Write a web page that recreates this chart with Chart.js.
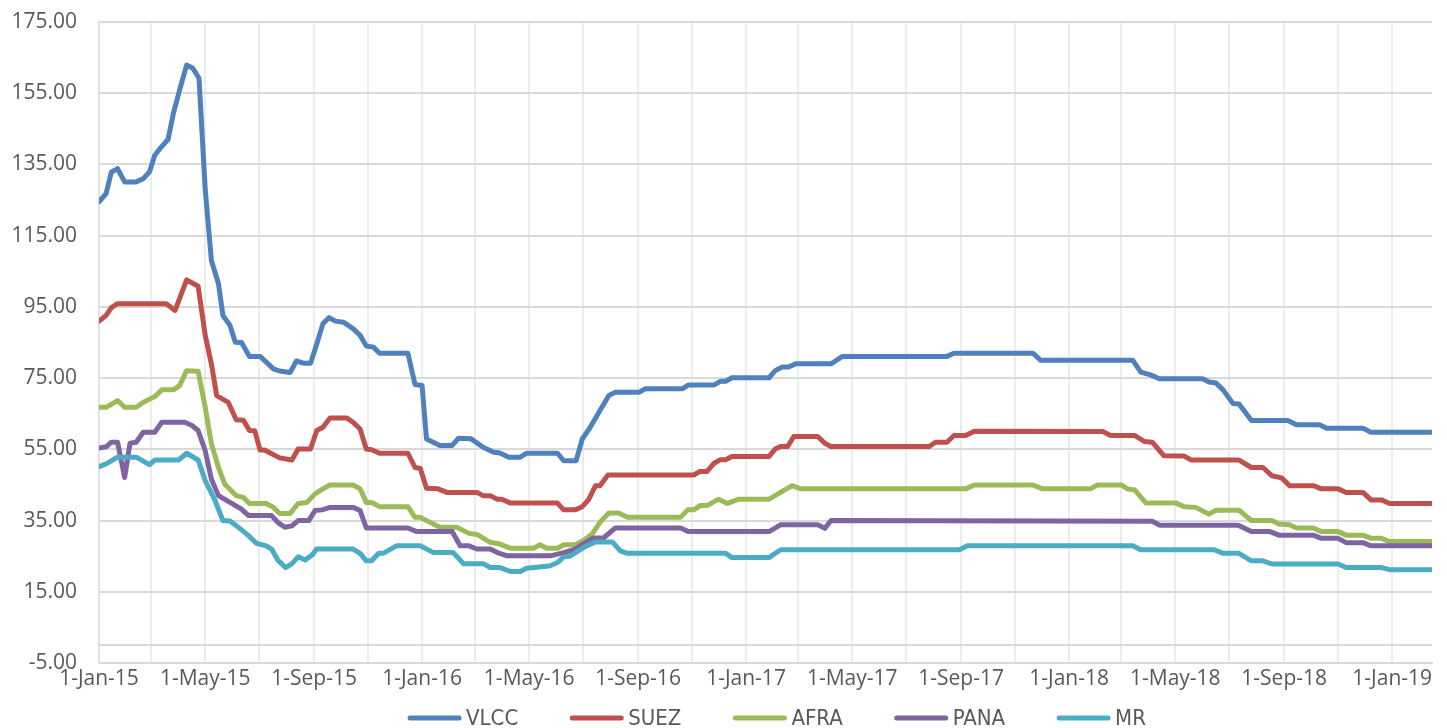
<!DOCTYPE html>
<html>
<head>
<meta charset="utf-8">
<title>Tanker rates</title>
<script src="https://cdn.jsdelivr.net/npm/chart.js@4.4.1/dist/chart.umd.min.js"></script>
<style>
  html, body { margin: 0; padding: 0; background: #fff; }
  canvas { display: block; }
</style>
</head>
<body>
<canvas id="rateChart" width="1447" height="728"></canvas>
<script>
// weekly rates, only the points where the line changes direction
const VLCC = [
    ['2015-01-01', 124.5], ['2015-01-09', 126.8], ['2015-01-15', 132.9], ['2015-01-22', 133.8],
    ['2015-01-30', 130.1], ['2015-02-12', 130.1], ['2015-02-20', 131.0], ['2015-02-27', 132.9],
    ['2015-03-05', 137.6], ['2015-03-11', 139.5], ['2015-03-20', 142.0], ['2015-03-26', 149.3],
    ['2015-04-02', 155.9], ['2015-04-10', 162.9], ['2015-04-17', 162.0], ['2015-04-24', 159.2],
    ['2015-05-01', 128.0], ['2015-05-08', 108.0], ['2015-05-16', 101.5], ['2015-05-21', 92.6],
    ['2015-05-29', 89.8], ['2015-06-04', 85.1], ['2015-06-11', 85.0], ['2015-06-20', 81.1],
    ['2015-07-02', 81.1], ['2015-07-09', 79.5], ['2015-07-17', 77.6], ['2015-07-24', 77.0],
    ['2015-08-05', 76.6], ['2015-08-12', 79.8], ['2015-08-20', 79.2], ['2015-08-28', 79.2],
    ['2015-09-04', 84.6], ['2015-09-11', 90.3], ['2015-09-18', 92.0], ['2015-09-25', 91.0],
    ['2015-10-04', 90.7], ['2015-10-15', 88.9], ['2015-10-23', 87.0], ['2015-10-30', 84.0],
    ['2015-11-07', 83.7], ['2015-11-14', 82.0], ['2015-12-16', 82.0], ['2015-12-24', 73.2],
    ['2016-01-01', 72.9], ['2016-01-06', 57.9], ['2016-01-21', 56.1], ['2016-02-04', 56.1],
    ['2016-02-11', 58.1], ['2016-02-25', 58.0], ['2016-03-10', 55.6], ['2016-03-22', 54.2],
    ['2016-03-29', 54.0], ['2016-04-08', 52.8], ['2016-04-21', 52.8], ['2016-04-28', 53.9],
    ['2016-06-02', 53.9], ['2016-06-09', 51.8], ['2016-06-23', 51.8], ['2016-06-30', 57.9],
    ['2016-07-09', 61.2], ['2016-07-20', 65.9], ['2016-07-30', 70.1], ['2016-08-06', 71.0],
    ['2016-09-02', 71.0], ['2016-09-09', 72.0], ['2016-10-21', 72.0], ['2016-10-28', 73.1],
    ['2016-11-26', 73.1], ['2016-12-03', 74.1], ['2016-12-09', 74.1], ['2016-12-16', 75.1],
    ['2017-01-27', 75.1], ['2017-02-03', 77.1], ['2017-02-11', 78.1], ['2017-02-18', 78.1],
    ['2017-02-26', 79.0], ['2017-04-07', 79.0], ['2017-04-20', 81.1], ['2017-08-16', 81.1],
    ['2017-08-24', 82.0], ['2017-11-21', 82.0], ['2017-11-30', 80.0], ['2018-03-14', 80.0],
    ['2018-03-23', 76.7], ['2018-04-03', 75.9], ['2018-04-13', 74.8], ['2018-06-01', 74.8],
    ['2018-06-08', 73.9], ['2018-06-16', 73.6], ['2018-06-24', 71.7], ['2018-07-05', 67.9],
    ['2018-07-12', 67.7], ['2018-07-26', 63.1], ['2018-09-05', 63.1], ['2018-09-15', 61.9],
    ['2018-10-11', 61.9], ['2018-10-19', 60.9], ['2018-11-29', 60.9], ['2018-12-08', 59.8],
    ['2019-02-15', 59.8]
];

const SUEZ = [
    ['2015-01-01', 91.0], ['2015-01-09', 92.6], ['2015-01-15', 94.8], ['2015-01-22', 95.9],
    ['2015-03-18', 95.9], ['2015-03-28', 94.0], ['2015-04-10', 102.6], ['2015-04-23', 100.8],
    ['2015-05-01', 87.0], ['2015-05-08', 79.0], ['2015-05-14', 70.1], ['2015-05-27', 68.2],
    ['2015-06-05', 63.3], ['2015-06-13', 63.2], ['2015-06-20', 60.3], ['2015-06-26', 60.2],
    ['2015-07-02', 54.8], ['2015-07-07', 54.8], ['2015-07-24', 52.6], ['2015-08-07', 52.0],
    ['2015-08-14', 55.1], ['2015-08-28', 55.1], ['2015-09-04', 60.3], ['2015-09-11', 61.2],
    ['2015-09-19', 63.8], ['2015-10-08', 63.8], ['2015-10-15', 62.6], ['2015-10-23', 60.7],
    ['2015-10-30', 55.1], ['2015-11-05', 54.9], ['2015-11-14', 53.9], ['2015-12-16', 53.9],
    ['2015-12-24', 49.9], ['2015-12-30', 49.6], ['2016-01-06', 44.1], ['2016-01-19', 43.9],
    ['2016-01-29', 42.9], ['2016-03-03', 42.9], ['2016-03-10', 42.0], ['2016-03-18', 42.0],
    ['2016-03-26', 41.0], ['2016-03-31', 41.0], ['2016-04-10', 39.9], ['2016-06-02', 39.9],
    ['2016-06-09', 38.0], ['2016-06-22', 38.0], ['2016-06-30', 38.9], ['2016-07-07', 40.8],
    ['2016-07-15', 44.8], ['2016-07-20', 44.8], ['2016-07-29', 47.8], ['2016-11-03', 47.8],
    ['2016-11-10', 48.8], ['2016-11-18', 48.8], ['2016-11-26', 51.1], ['2016-12-03', 52.1],
    ['2016-12-09', 52.1], ['2016-12-16', 53.0], ['2017-01-27', 53.0], ['2017-02-03', 55.1],
    ['2017-02-09', 55.8], ['2017-02-17', 55.8], ['2017-02-24', 58.6], ['2017-03-23', 58.6],
    ['2017-03-31', 56.7], ['2017-04-07', 55.8], ['2017-07-27', 55.8], ['2017-08-03', 57.0],
    ['2017-08-16', 57.0], ['2017-08-24', 58.9], ['2017-09-06', 58.9], ['2017-09-16', 60.1],
    ['2018-02-08', 60.0], ['2018-02-17', 58.9], ['2018-03-16', 58.9], ['2018-03-27', 57.2],
    ['2018-04-05', 57.0], ['2018-04-18', 53.2], ['2018-05-11', 53.1], ['2018-05-19', 52.0],
    ['2018-07-12', 52.0], ['2018-07-26', 49.9], ['2018-08-08', 49.9], ['2018-08-18', 47.6],
    ['2018-08-29', 47.0], ['2018-09-07', 44.8], ['2018-10-04', 44.8], ['2018-10-13', 43.9],
    ['2018-11-01', 43.9], ['2018-11-10', 42.9], ['2018-11-29', 42.9], ['2018-12-08', 40.8],
    ['2018-12-20', 40.8], ['2018-12-29', 39.8], ['2019-02-15', 39.8]
];

const AFRA = [
    ['2015-01-01', 66.8], ['2015-01-09', 66.8], ['2015-01-22', 68.7], ['2015-01-30', 66.8],
    ['2015-02-12', 66.8], ['2015-02-20', 68.2], ['2015-03-05', 69.8], ['2015-03-13', 71.7],
    ['2015-03-26', 71.7], ['2015-04-02', 72.9], ['2015-04-10', 77.1], ['2015-04-23', 76.9],
    ['2015-05-01', 66.8], ['2015-05-08', 56.6], ['2015-05-16', 49.9], ['2015-05-23', 45.3],
    ['2015-06-05', 42.0], ['2015-06-13', 41.5], ['2015-06-20', 39.8], ['2015-07-09', 39.8],
    ['2015-07-17', 38.7], ['2015-07-24', 37.0], ['2015-08-05', 37.0], ['2015-08-14', 39.8],
    ['2015-08-24', 40.1], ['2015-09-02', 42.5], ['2015-09-11', 43.9], ['2015-09-19', 45.0],
    ['2015-10-15', 45.0], ['2015-10-23', 43.9], ['2015-10-30', 40.1], ['2015-11-05', 40.1],
    ['2015-11-14', 38.9], ['2015-12-16', 38.9], ['2015-12-24', 35.9], ['2015-12-30', 35.9],
    ['2016-01-21', 33.1], ['2016-02-09', 33.1], ['2016-02-23', 31.4], ['2016-03-03', 31.1],
    ['2016-03-18', 28.9], ['2016-03-29', 28.4], ['2016-04-10', 27.2], ['2016-05-06', 27.2],
    ['2016-05-13', 28.2], ['2016-05-21', 27.2], ['2016-06-02', 27.2], ['2016-06-09', 28.2],
    ['2016-06-22', 28.2], ['2016-07-02', 29.5], ['2016-07-11', 31.2], ['2016-07-20', 34.5],
    ['2016-07-30', 37.1], ['2016-08-10', 37.1], ['2016-08-20', 35.9], ['2016-10-19', 35.9],
    ['2016-10-27', 38.0], ['2016-11-03', 38.0], ['2016-11-10', 39.2], ['2016-11-18', 39.2],
    ['2016-12-01', 41.0], ['2016-12-11', 39.8], ['2016-12-24', 41.0], ['2017-01-27', 41.0],
    ['2017-02-09', 42.9], ['2017-02-22', 44.8], ['2017-03-04', 43.9], ['2017-09-06', 43.9],
    ['2017-09-16', 45.0], ['2017-11-21', 45.0], ['2017-12-02', 43.9], ['2018-01-25', 43.9],
    ['2018-02-02', 45.0], ['2018-03-01', 45.0], ['2018-03-08', 43.9], ['2018-03-16', 43.6],
    ['2018-03-29', 39.9], ['2018-05-02', 39.9], ['2018-05-11', 38.9], ['2018-05-24', 38.7],
    ['2018-06-08', 36.8], ['2018-06-16', 37.9], ['2018-07-12', 37.9], ['2018-07-26', 35.0],
    ['2018-08-18', 35.0], ['2018-08-26', 34.0], ['2018-09-07', 33.8], ['2018-09-15', 32.9],
    ['2018-10-04', 32.9], ['2018-10-13', 31.9], ['2018-11-01', 31.9], ['2018-11-10', 30.9],
    ['2018-11-29', 30.9], ['2018-12-08', 30.0], ['2018-12-20', 30.0], ['2018-12-29', 29.1],
    ['2019-02-15', 29.1]
];

const PANA = [
    ['2015-01-01', 55.4], ['2015-01-09', 55.7], ['2015-01-15', 57.0], ['2015-01-22', 57.0],
    ['2015-01-30', 47.1], ['2015-02-05', 56.7], ['2015-02-12', 57.0], ['2015-02-20', 59.8],
    ['2015-03-05', 59.8], ['2015-03-13', 62.6], ['2015-04-08', 62.6], ['2015-04-16', 61.7],
    ['2015-04-23', 60.3], ['2015-05-01', 54.6], ['2015-05-08', 46.6], ['2015-05-16', 42.0],
    ['2015-05-29', 40.1], ['2015-06-11', 38.2], ['2015-06-19', 36.4], ['2015-07-15', 36.4],
    ['2015-07-22', 34.5], ['2015-07-30', 33.1], ['2015-08-07', 33.5], ['2015-08-14', 35.0],
    ['2015-08-26', 35.0], ['2015-09-02', 37.8], ['2015-09-10', 38.0], ['2015-09-19', 38.7],
    ['2015-10-15', 38.7], ['2015-10-23', 37.8], ['2015-10-30', 32.9], ['2015-12-16', 32.9],
    ['2015-12-26', 31.9], ['2016-02-04', 31.9], ['2016-02-13', 27.9], ['2016-02-23', 27.9],
    ['2016-03-03', 27.0], ['2016-03-18', 27.0], ['2016-03-26', 26.0], ['2016-04-06', 25.1],
    ['2016-05-25', 25.1], ['2016-06-09', 26.0], ['2016-06-22', 27.0], ['2016-07-02', 28.6],
    ['2016-07-13', 30.1], ['2016-07-24', 30.1], ['2016-08-06', 32.9], ['2016-10-19', 32.9],
    ['2016-10-28', 31.9], ['2017-01-27', 31.9], ['2017-02-09', 33.8], ['2017-03-23', 33.8],
    ['2017-03-31', 32.8], ['2017-04-07', 35.0], ['2018-04-05', 34.8], ['2018-04-13', 33.7],
    ['2018-07-11', 33.7], ['2018-07-26', 31.9], ['2018-08-16', 31.9], ['2018-08-26', 30.9],
    ['2018-10-04', 30.9], ['2018-10-13', 30.0], ['2018-11-01', 30.0], ['2018-11-10', 28.8],
    ['2018-11-29', 28.8], ['2018-12-08', 27.9], ['2019-02-15', 27.9]
];

const MR = [
    ['2015-01-01', 50.1], ['2015-01-09', 50.9], ['2015-01-22', 52.8], ['2015-02-12', 52.8],
    ['2015-02-27', 50.7], ['2015-03-05', 52.0], ['2015-04-01', 52.0], ['2015-04-10', 53.9],
    ['2015-04-23', 52.0], ['2015-05-01', 46.2], ['2015-05-12', 40.7], ['2015-05-21', 35.0],
    ['2015-05-29', 34.9], ['2015-06-09', 32.8], ['2015-06-17', 31.2], ['2015-06-28', 28.6],
    ['2015-07-09', 27.9], ['2015-07-15', 27.0], ['2015-07-22', 23.9], ['2015-07-31', 21.8],
    ['2015-08-07', 22.9], ['2015-08-14', 24.8], ['2015-08-22', 23.9], ['2015-08-30', 25.4],
    ['2015-09-04', 27.0], ['2015-10-15', 27.0], ['2015-10-23', 25.8], ['2015-10-30', 23.7],
    ['2015-11-05', 23.7], ['2015-11-13', 25.8], ['2015-11-18', 25.8], ['2015-12-03', 27.9],
    ['2015-12-30', 27.9], ['2016-01-14', 26.0], ['2016-02-05', 26.0], ['2016-02-17', 22.9],
    ['2016-03-10', 22.9], ['2016-03-18', 21.8], ['2016-03-29', 21.8], ['2016-04-10', 20.7],
    ['2016-04-21', 20.7], ['2016-04-28', 21.6], ['2016-05-10', 21.9], ['2016-05-25', 22.3],
    ['2016-06-02', 23.2], ['2016-06-09', 24.8], ['2016-06-16', 25.0], ['2016-07-02', 27.5],
    ['2016-07-15', 29.0], ['2016-08-03', 29.0], ['2016-08-12', 26.5], ['2016-08-20', 25.8],
    ['2016-12-09', 25.8], ['2016-12-16', 24.6], ['2017-01-27', 24.6], ['2017-02-09', 26.8],
    ['2017-08-30', 26.8], ['2017-09-08', 27.9], ['2018-03-14', 27.9], ['2018-03-23', 26.8],
    ['2018-06-14', 26.8], ['2018-06-24', 25.8], ['2018-07-12', 25.8], ['2018-07-26', 23.7],
    ['2018-08-08', 23.7], ['2018-08-18', 22.8], ['2018-11-01', 22.8], ['2018-11-10', 21.8],
    ['2018-12-20', 21.8], ['2018-12-29', 21.2], ['2019-02-15', 21.2]
];

const seriesNames = ['VLCC', 'SUEZ', 'AFRA', 'PANA', 'MR'];
const seriesData = [VLCC, SUEZ, AFRA, PANA, MR];
const seriesColors = ['#4f81bd', '#c0504d', '#9bbb59', '#8064a2', '#4bacc6'];

// vertical gridlines every two months, labels every four
const tickDates = [
    '2015-01-01', '2015-03-01', '2015-05-01', '2015-07-01', '2015-09-01', '2015-11-01',
    '2016-01-01', '2016-03-01', '2016-05-01', '2016-07-01', '2016-09-01', '2016-11-01',
    '2017-01-01', '2017-03-01', '2017-05-01', '2017-07-01', '2017-09-01', '2017-11-01',
    '2018-01-01', '2018-03-01', '2018-05-01', '2018-07-01', '2018-09-01', '2018-11-01',
    '2019-01-01'
];
const tickLabels = [
    '1-Jan-15', '', '1-May-15', '', '1-Sep-15', '',
    '1-Jan-16', '', '1-May-16', '', '1-Sep-16', '',
    '1-Jan-17', '', '1-May-17', '', '1-Sep-17', '',
    '1-Jan-18', '', '1-May-18', '', '1-Sep-18', '',
    '1-Jan-19'
];

const yMin = -5;
const yMax = 175;
const yStep = 20;

const T0 = Date.UTC(2015, 0, 1);
function dayOf(s) {
    const p = s.split('-').map(Number);
    return (Date.UTC(p[0], p[1] - 1, p[2]) - T0) / 86400000;
}

const textColor = '#595959';
const axisFont = { family: '"Open Sans", "DejaVu Sans", sans-serif', size: 21 };

// Excel draws the category axis where y = 0
const zeroLine = {
    id: 'zeroLine',
    beforeDatasetsDraw(chart) {
        const {ctx, chartArea, scales} = chart;
        const y = Math.round(scales.y.getPixelForValue(0));
        ctx.save();
        ctx.strokeStyle = '#d9d9d9';
        ctx.lineWidth = 2;
        ctx.beginPath();
        ctx.moveTo(chartArea.left, y);
        ctx.lineTo(chartArea.right, y);
        ctx.stroke();
        ctx.restore();
    }
};

// legend drawn by hand, the built-in one uses the same padding vertically
const lineLegend = {
    id: 'lineLegend',
    afterDraw(chart) {
        const ctx = chart.ctx;
        const lineLen = 53, gap = 5, spacing = 52;
        const centerX = 777, y = 718;
        ctx.save();
        ctx.font = '22px "Liberation Sans Narrow", "DejaVu Sans Condensed", "Open Sans", sans-serif';
        const items = chart.data.datasets.map(ds => ({
            text: ds.label,
            color: ds.borderColor,
            w: ctx.measureText(ds.label).width
        }));
        let total = 0;
        items.forEach((it, i) => {
            total += lineLen + gap + it.w + (i < items.length - 1 ? spacing : 0);
        });
        let x = centerX - total / 2;
        ctx.textBaseline = 'middle';
        ctx.textAlign = 'left';
        items.forEach(it => {
            ctx.strokeStyle = it.color;
            ctx.lineWidth = 5;
            ctx.lineCap = 'round';
            ctx.beginPath();
            ctx.moveTo(x + 2, y);
            ctx.lineTo(x + lineLen - 2, y);
            ctx.stroke();
            ctx.fillStyle = textColor;
            ctx.fillText(it.text, x + lineLen + gap, y + 1);
            x += lineLen + gap + it.w + spacing;
        });
        ctx.restore();
    }
};

const datasets = seriesNames.map((name, i) => ({
    label: name,
    data: seriesData[i].map(p => ({ x: dayOf(p[0]), y: p[1] })),
    borderColor: seriesColors[i],
    backgroundColor: seriesColors[i],
    borderWidth: 5,
    borderJoinStyle: 'round',
    borderCapStyle: 'round',
    pointRadius: 0,
    tension: 0,
    fill: false,
    order: seriesNames.length - i
}));

const lastDay = dayOf(VLCC[VLCC.length - 1][0]);

new Chart(document.getElementById('rateChart'), {
    type: 'line',
    data: { datasets: datasets },
    options: {
        responsive: false,
        animation: false,
        layout: {
            padding: { left: 0, right: 15, top: 22, bottom: 37 }
        },
        scales: {
            x: {
                type: 'linear',
                min: 0,
                max: lastDay,
                afterBuildTicks(scale) {
                    scale.ticks = tickDates.map(d => ({ value: dayOf(d) }));
                },
                afterFit(scale) {
                    scale.height = 28;
                },
                grid: {
                    color: '#ececec',
                    lineWidth: 2,
                    drawTicks: false
                },
                border: { color: '#d9d9d9', width: 2 },
                ticks: {
                    autoSkip: false,
                    maxRotation: 0,
                    minRotation: 0,
                    padding: 3,
                    color: textColor,
                    font: axisFont,
                    callback: (value, index) => tickLabels[index]
                }
            },
            y: {
                min: yMin,
                max: yMax,
                afterFit(scale) {
                    scale.width = 99;
                    // label half-heights are not needed, layout padding handles it
                    scale.paddingTop = 0;
                    scale.paddingBottom = 0;
                },
                grid: {
                    color: '#d9d9d9',
                    lineWidth: 2,
                    drawTicks: false
                },
                border: { color: '#e3e3e3', width: 2 },
                ticks: {
                    stepSize: yStep,
                    padding: 22,
                    color: textColor,
                    font: axisFont,
                    callback: v => v.toFixed(2)
                }
            }
        },
        plugins: {
            legend: { display: false },
            tooltip: { enabled: false }
        }
    },
    plugins: [zeroLine, lineLegend]
});
</script>
</body>
</html>
